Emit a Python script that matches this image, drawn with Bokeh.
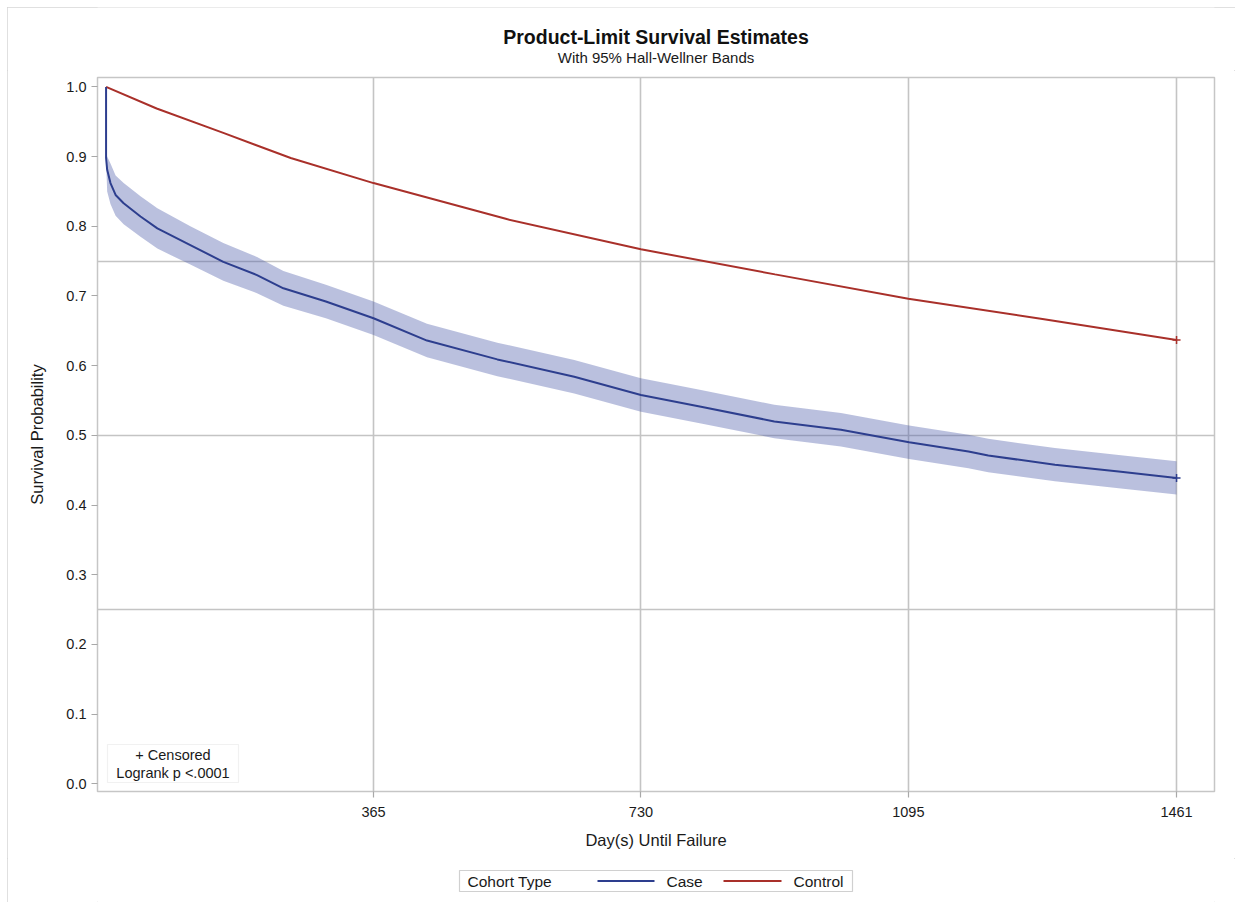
from bokeh.plotting import figure
from bokeh.layouts import column
from bokeh.models import Range1d, FixedTicker, PrintfTickFormatter, Label, BoxAnnotation
from bokeh.core.properties import value
from bokeh.embed import file_html
from bokeh.resources import INLINE

# ---------------- data ----------------
case_days = [0, 0, 1.5, 6, 13, 24, 47, 70, 115, 160, 206, 242, 300, 365, 438, 534, 639,
             730, 812, 912, 1003, 1096, 1177, 1204, 1295, 1382, 1461]
case_surv = [1.0, 0.898, 0.881, 0.862, 0.845, 0.833, 0.814, 0.797, 0.773, 0.749, 0.730, 0.711,
             0.692, 0.668, 0.636, 0.609, 0.584, 0.558, 0.541, 0.520, 0.508, 0.490, 0.477,
             0.471, 0.458, 0.448, 0.439]

band_days = [0, 1.5, 6, 13, 24, 47, 70, 115, 160, 206, 242, 300, 365, 438, 534, 639,
             730, 812, 912, 1003, 1096, 1177, 1204, 1295, 1382, 1461]
band_upper = [0.900, 0.900, 0.890, 0.873, 0.862, 0.843, 0.826, 0.800, 0.776, 0.756, 0.736,
              0.716, 0.692, 0.660, 0.633, 0.608, 0.582, 0.565, 0.544, 0.532, 0.514, 0.501,
              0.495, 0.482, 0.472, 0.463]
band_lower = [0.895, 0.850, 0.832, 0.815, 0.803, 0.785, 0.768, 0.745, 0.722, 0.704, 0.686,
              0.668, 0.644, 0.612, 0.585, 0.560, 0.534, 0.517, 0.496, 0.484, 0.466, 0.453,
              0.447, 0.434, 0.424, 0.415]

control_days = [0, 69, 160, 252, 365, 548, 730, 913, 1095, 1278, 1461]
control_surv = [1.0, 0.969, 0.934, 0.898, 0.862, 0.810, 0.767, 0.731, 0.696, 0.667, 0.637]

censor_days = [1461]
case_censor_surv = [0.439]
control_censor_surv = [0.637]

x_ticks = [365, 730, 1095, 1461]
y_ticks = [0.0, 0.1, 0.2, 0.3, 0.4, 0.5, 0.6, 0.7, 0.8, 0.9, 1.0]
y_grid = [0.25, 0.5, 0.75]

title_text = "Product-Limit Survival Estimates"
subtitle_text = "With 95% Hall-Wellner Bands"
x_label = "Day(s) Until Failure"
y_label = "Survival Probability"
inset_lines = ["+ Censored", "Logrank p <.0001"]
legend_title = "Cohort Type"
legend_names = ["Case", "Control"]

# ---------------- styling ----------------
FONT = "Liberation Sans"
CASE_COLOR = "#2d3e8e"
BAND_COLOR = "#4a5aa8"
CONTROL_COLOR = "#a9302a"
GRID_COLOR = "#c4c4c4"
TEXT_COLOR = "#1a1a1a"

OX, OY = 7, 7            # offset of the whole chart box in the page
W = 1228                 # width of every panel
H_TITLE, H_MAIN, H_LEG = 63, 788, 44
MAIN_TOP = OY + H_TITLE          # page y of main panel top
LEG_TOP = MAIN_TOP + H_MAIN      # page y of legend panel top
PAGE_FL, PAGE_FR = 97, 1214      # frame edges in page pixels (shared by all panels)

X0, X1 = -11.7, 1512.8
Y0, Y1 = -0.011, 1.0135
FT, FB = 7, 721                  # frame top/bottom in main panel pixels


def px_x(px):
    """page x pixel -> day value"""
    return X0 + (px - PAGE_FL) / (PAGE_FR - PAGE_FL) * (X1 - X0)


def px_y(py):
    """page y pixel -> probability value"""
    local = py - MAIN_TOP
    return Y0 + (FB - local) / (FB - FT) * (Y1 - Y0)


def blank_panel(h, top):
    # frames of stacked panels are aligned, so map page x across the shared frame
    f = figure(width=W, height=h, output_backend="svg", toolbar_location=None,
               x_range=Range1d(PAGE_FL, PAGE_FR), y_range=Range1d(top + h, top),
               x_axis_type=None, y_axis_type=None,
               min_border_left=0, min_border_right=0, min_border_top=0, min_border_bottom=0)
    f.outline_line_color = None
    f.background_fill_color = "white"
    f.border_fill_color = "white"
    return f


# ---------------- title panel ----------------
tp = blank_panel(H_TITLE, OY)
tp.text(x=[655.5], y=[36], text=[title_text], text_font=value(FONT),
        text_font_size="19.5px", text_font_style="bold", text_align="center",
        text_baseline="middle", text_color="#111111")
tp.text(x=[655.5], y=[57], text=[subtitle_text], text_font=value(FONT),
        text_font_size="15px", text_align="center", text_baseline="middle",
        text_color=TEXT_COLOR)

# ---------------- main panel ----------------
p = figure(width=W, height=H_MAIN, output_backend="svg", toolbar_location=None,
           x_range=Range1d(X0, X1), y_range=Range1d(Y0, Y1),
           min_border_left=PAGE_FL - OX, min_border_right=OX + W - PAGE_FR,
           min_border_top=FT, min_border_bottom=H_MAIN - FB)
p.background_fill_color = "white"
p.border_fill_color = "white"
p.outline_line_color = "#c6c6c6"
p.outline_line_width = 1.5

p.xgrid.ticker = FixedTicker(ticks=x_ticks)
p.ygrid.ticker = FixedTicker(ticks=y_grid)
p.xgrid.grid_line_color = GRID_COLOR
p.ygrid.grid_line_color = GRID_COLOR
p.xgrid.grid_line_width = 1.6
p.ygrid.grid_line_width = 1.6

p.xaxis.ticker = FixedTicker(ticks=x_ticks)
p.yaxis.ticker = FixedTicker(ticks=y_ticks)
p.yaxis.formatter = PrintfTickFormatter(format="%.1f")
for ax in (p.xaxis[0], p.yaxis[0]):
    ax.axis_line_color = None
    ax.major_tick_line_color = "#a8a8a8"
    ax.major_tick_line_width = 1.2
    ax.major_tick_out = 6
    ax.major_tick_in = 0
    ax.minor_tick_line_color = None
    ax.major_label_text_font = FONT
    ax.major_label_text_font_size = "14.5px"
    ax.major_label_text_color = TEXT_COLOR
    ax.axis_label_text_font = FONT
    ax.axis_label_text_font_size = "16.5px"
    ax.axis_label_text_font_style = "normal"
    ax.axis_label_text_color = TEXT_COLOR
p.xaxis.axis_label = x_label
p.yaxis.axis_label = y_label
p.xaxis.major_label_standoff = 9
p.yaxis.major_label_standoff = 5
p.xaxis.axis_label_standoff = 11
p.yaxis.axis_label_standoff = 17

p.varea(x=band_days, y1=band_lower, y2=band_upper, fill_color=BAND_COLOR, fill_alpha=0.38)
p.line(control_days, control_surv, line_color=CONTROL_COLOR, line_width=2)
p.line(case_days, case_surv, line_color=CASE_COLOR, line_width=2)
p.scatter(censor_days, control_censor_surv, marker="cross", size=8,
          line_color=CONTROL_COLOR, line_width=1.5)
p.scatter(censor_days, case_censor_surv, marker="cross", size=8,
          line_color=CASE_COLOR, line_width=1.5)

# inset box (inside the frame)
p.add_layout(BoxAnnotation(left=px_x(107), right=px_x(238), top=px_y(744), bottom=px_y(782),
                           fill_color="white", fill_alpha=1, line_color="#d0d0d0", line_width=1.2))
p.add_layout(Label(x=px_x(172.5), y=px_y(754), text=inset_lines[0], text_font=FONT,
                   text_font_size="14.5px", text_align="center", text_baseline="middle",
                   text_color=TEXT_COLOR))
p.add_layout(Label(x=px_x(172.5), y=px_y(772), text=inset_lines[1], text_font=FONT,
                   text_font_size="14.5px", text_align="center", text_baseline="middle",
                   text_color=TEXT_COLOR))

# ---------------- legend panel ----------------
lg = blank_panel(H_LEG, LEG_TOP)
ly = 880.5
lg.quad(left=[459], right=[852], top=[870], bottom=[891],
        fill_color="white", line_color="#d0d0d0", line_width=1.2)
lg.text(x=[467, 666, 793], y=[ly, ly, ly],
        text=[legend_title] + legend_names, text_font=value(FONT),
        text_font_size="15.5px", text_align="left", text_baseline="middle",
        text_color=TEXT_COLOR)
lg.segment(x0=[597, 723], y0=[ly, ly], x1=[654, 781], y1=[ly, ly],
           line_color=[CASE_COLOR, CONTROL_COLOR], line_width=2)

layout = column(tp, p, lg, spacing=0, margin=(OY, 0, 0, OX),
                styles={"outline": "1.5px solid #d6d6d6", "outline-offset": "-1.5px"})

open("out.html", "w").write(file_html(layout, INLINE))
